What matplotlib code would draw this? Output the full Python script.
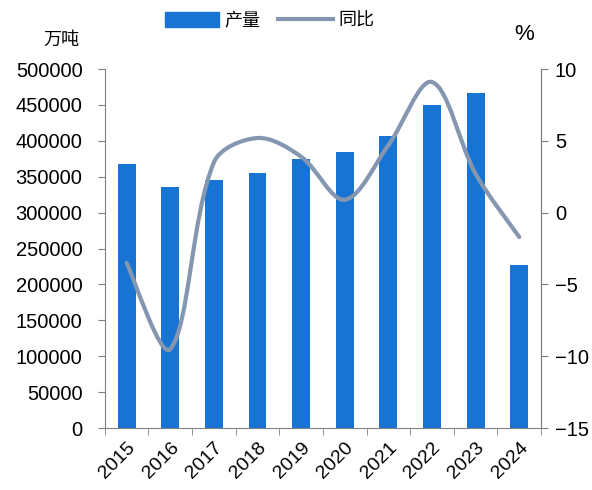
import matplotlib
matplotlib.use("Agg")
import matplotlib.pyplot as plt
import matplotlib.path
import matplotlib.patches
from matplotlib.lines import Line2D
import numpy as np

plt.rcParams['font.family'] = ['Liberation Sans', 'Noto Sans CJK SC', 'DejaVu Sans']

years = ["2015", "2016", "2017", "2018", "2019", "2020", "2021", "2022", "2023", "2024"]
output_wt = [368000, 335500, 345000, 355000, 375000, 384500, 407000, 450500, 466000, 226500]
yoy_pct = [-3.5, -9.5, 3.5, 5.2, 3.9, 0.9, 4.7, 9.1, 2.7, -1.7]

bar_color = "#1874d2"
line_color = "#8496b0"


def smooth_path(xs, ys, sx, sy):
    # smoothed line like excel: bezier through every point,
    # control arm lengths follow the neighbouring segment lengths on screen
    pts = [np.array([a * sx, b * sy]) for a, b in zip(xs, ys)]
    n = len(pts)
    tang = []
    for i in range(n):
        p0 = pts[i - 1] if i > 0 else pts[i]
        p2 = pts[i + 1] if i < n - 1 else pts[i]
        tang.append(p2 - p0)
    verts = [pts[0]]
    codes = [matplotlib.path.Path.MOVETO]
    for i in range(n - 1):
        d_prev = np.linalg.norm(pts[i] - pts[i - 1]) if i > 0 else np.linalg.norm(pts[i + 1] - pts[i])
        d_cur = np.linalg.norm(pts[i + 1] - pts[i])
        d_next = np.linalg.norm(pts[i + 2] - pts[i + 1]) if i + 2 < n else d_cur
        k1 = d_cur / (d_prev + d_cur) / 3
        k2 = d_cur / (d_cur + d_next) / 3
        if i == 0:
            k1 = 1 / 6
        if i == n - 2:
            k2 = 1 / 6
        c1 = pts[i] + tang[i] * k1
        c2 = pts[i + 1] - tang[i + 1] * k2
        verts += [c1, c2, pts[i + 1]]
        codes += [matplotlib.path.Path.CURVE4] * 3
    verts = [(v[0] / sx, v[1] / sy) for v in verts]
    return matplotlib.path.Path(verts, codes)


fig = plt.figure(figsize=(5.92, 4.9), dpi=100)
ax = fig.add_axes([0.177, 0.1265, 0.737, 0.7325])
x = np.arange(len(years))
ax.bar(x, output_wt, width=0.41, color=bar_color, zorder=2)
ax.set_xlim(-0.5, len(years) - 0.5)
ax.set_ylim(0, 500000)
ax.set_yticks(range(0, 500001, 50000))
ax.tick_params(axis='y', labelsize=14.5, length=5, color="#808080", pad=11)

ax.set_xticks(x)
ax.set_xticklabels(years, rotation=45, ha='right', rotation_mode='anchor', fontsize=14)
ax.tick_params(axis='x', which='major', length=0, pad=8)
ax.set_xticks(np.arange(-0.5, len(years), 1), minor=True)
ax.tick_params(axis='x', which='minor', length=5, color="#808080")

ax.spines['top'].set_visible(False)
for s in ['left', 'bottom', 'right']:
    ax.spines[s].set_color("#808080")

ax2 = ax.twinx()
ax2.set_ylim(-15, 10)
ax2.set_yticks(range(-15, 11, 5))
ax2.tick_params(axis='y', labelsize=14.5, length=5, color="#808080", pad=5)
ax2.spines['top'].set_visible(False)
ax2.spines['right'].set_color("#808080")
ax2.spines['left'].set_visible(False)
ax2.spines['bottom'].set_visible(False)

# pixel size of one category / one percent, for the smoothing
sx = 0.737 * 592 / len(years)
sy = 0.7325 * 490 / 25
patch = matplotlib.patches.PathPatch(smooth_path(x, yoy_pct, sx, sy), facecolor='none',
                                     edgecolor=line_color, lw=3, capstyle='round', zorder=3)
ax2.add_patch(patch)

fig.text(0.074, 0.918, "万吨", fontsize=13, family=['Noto Sans CJK SC'], va='center')
fig.text(0.868, 0.93, "%", fontsize=16, va='center')

handles = [matplotlib.patches.Patch(color=bar_color, label="产量"),
           Line2D([0], [0], color=line_color, lw=3, label="同比")]
fig.legend(handles=handles, loc='center', bbox_to_anchor=(0.455, 0.958), ncol=2,
           frameon=False, prop={'family': ['Noto Sans CJK SC'], 'size': 13},
           handlelength=3.0, handleheight=0.9, handletextpad=0.3, columnspacing=1.0)

fig.savefig("out.png", dpi=100)
